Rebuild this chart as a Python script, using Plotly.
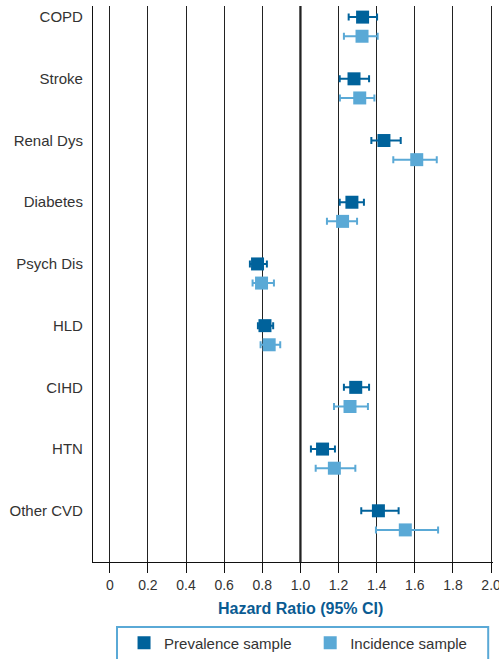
import plotly.graph_objects as go

categories = ["COPD", "Stroke", "Renal Dys", "Diabetes", "Psych Dis", "HLD", "CIHD", "HTN", "Other CVD"]

prev_hr = [1.326, 1.281, 1.438, 1.270, 0.775, 0.814, 1.290, 1.116, 1.409]
prev_lo = [1.253, 1.206, 1.372, 1.206, 0.735, 0.777, 1.228, 1.055, 1.319]
prev_hi = [1.402, 1.360, 1.526, 1.333, 0.824, 0.857, 1.360, 1.181, 1.515]

inc_hr = [1.323, 1.311, 1.610, 1.221, 0.796, 0.836, 1.260, 1.178, 1.550]
inc_lo = [1.228, 1.207, 1.487, 1.139, 0.749, 0.791, 1.176, 1.080, 1.396]
inc_hi = [1.405, 1.388, 1.715, 1.297, 0.861, 0.894, 1.354, 1.288, 1.722]

x_ticks = [0, 0.2, 0.4, 0.6, 0.8, 1.0, 1.2, 1.4, 1.6, 1.8, 2.0]
x_tick_labels = ["0", "0.2", "0.4", "0.6", "0.8", "1.0", "1.2", "1.4", "1.6", "1.8", "2.0"]

DARK = "#00629b"
LIGHT = "#5aa9d6"
TXT = "#333333"
FONT = "Liberation Sans, Arial, sans-serif"

row_offset = 0.31
idx = list(range(len(categories)))
y_prev = [i for i in idx]
y_inc = [i + row_offset for i in idx]

fig = go.Figure()

def add_series(name, hr, lo, hi, ys, color, legend):
    fig.add_trace(go.Scatter(
        x=hr, y=ys, mode="markers", name=name, legend=legend,
        marker=dict(symbol="square", size=13, color=color),
        error_x=dict(type="data", symmetric=False,
                     array=[h - m for h, m in zip(hi, hr)],
                     arrayminus=[m - l for m, l in zip(hr, lo)],
                     color=color, thickness=2, width=3.5),
        hoverinfo="x+y",
    ))

add_series("Prevalence sample", prev_hr, prev_lo, prev_hi, y_prev, DARK, "legend")
add_series("Incidence sample", inc_hr, inc_lo, inc_hi, y_inc, LIGHT, "legend2")

# reference line at HR = 1.0
fig.add_shape(type="line", x0=1.0, x1=1.0, xref="x", y0=0, y1=1, yref="paper",
              line=dict(color="#111111", width=2.2), layer="below")

# legend box
fig.add_shape(type="rect", xref="paper", yref="paper",
              x0=0.060, x1=0.988, y0=-0.19, y1=-0.117,
              line=dict(color=LIGHT, width=2), fillcolor="rgba(0,0,0,0)")

fig.add_annotation(text="<b>Hazard Ratio (95% CI)</b>", x=1.0, xref="x",
                   y=-0.083, yref="paper", yanchor="middle", showarrow=False,
                   font=dict(family=FONT, size=16, color="#0a5b92"))

leg_common = dict(orientation="h", xanchor="left", y=-0.1457, yanchor="middle",
                  font=dict(family=FONT, size=15, color=TXT),
                  bgcolor="rgba(0,0,0,0)", borderwidth=0)

fig.update_layout(
    width=499, height=659,
    margin=dict(l=93, r=6, t=6, b=97, autoexpand=False),
    paper_bgcolor="white", plot_bgcolor="white",
    font=dict(family=FONT, size=15, color=TXT),
    showlegend=True,
    legend=dict(x=0.0776, **leg_common),
    legend2=dict(x=0.543, **leg_common),
    xaxis=dict(range=[-0.088, 2.01], tickvals=x_ticks, ticktext=x_tick_labels,
               automargin=False, ticklabeloverflow="allow",
               showgrid=True, gridcolor="#222222", gridwidth=1, zeroline=False,
               showline=True, linecolor="#111111", linewidth=1.2,
               ticks="outside", ticklen=10, tickcolor="#111111", tickwidth=1,
               tickfont=dict(family=FONT, size=14, color=TXT)),
    yaxis=dict(range=[8.83, -0.18], tickvals=idx, ticktext=categories,
               automargin=False,
               showgrid=False, zeroline=False,
               showline=True, linecolor="#111111", linewidth=1.2,
               ticks="outside", ticklen=6, tickcolor="rgba(0,0,0,0)",
               tickfont=dict(family=FONT, size=15, color=TXT)),
)

fig.write_html("out.html", config={"displayModeBar": False},
               post_script="document.body.style.margin='0';document.body.style.padding='0';")
